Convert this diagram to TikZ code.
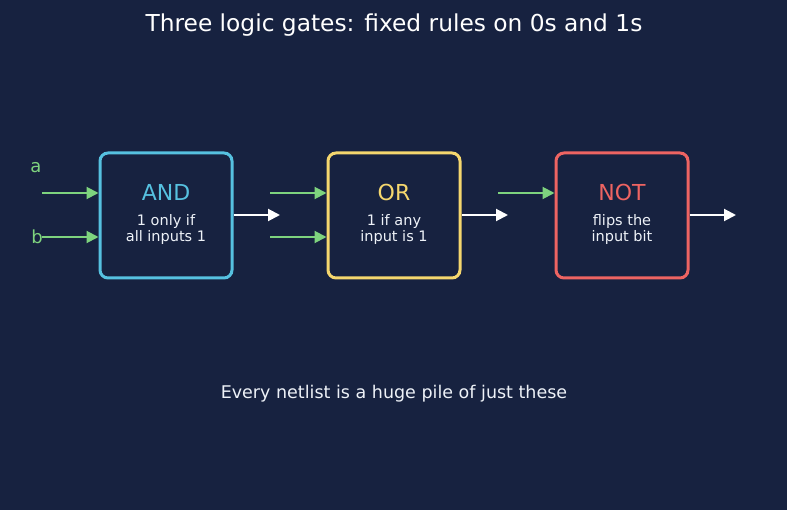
\documentclass[tikz,border=0pt]{standalone}
\usepackage{fontspec}
\setmainfont{DejaVu Sans}
\usetikzlibrary{arrows.meta}
\definecolor{bg}{HTML}{172240}
\definecolor{andc}{HTML}{56C1E0}
\definecolor{orc}{HTML}{F5D76E}
\definecolor{notc}{HTML}{EE6462}
\definecolor{wirec}{HTML}{7ED37E}
\definecolor{subc}{HTML}{EEF2F8}
\tikzset{
  gate/.style={draw=#1, line width=3pt, rounded corners=8pt, minimum width=132pt, minimum height=125pt, inner sep=0pt},
  gname/.style={text=#1, font=\fontsize{22}{26}\selectfont, inner sep=0pt},
  gdesc/.style={text=subc, font=\fontsize{14.5}{16}\selectfont, align=center, inner sep=0pt},
  inwire/.style={draw=wirec, line width=2pt, -{Triangle[length=12pt,width=12pt]}},
  outwire/.style={draw=white, line width=2pt, -{Triangle[length=12pt,width=12pt]}},
  pinlbl/.style={text=wirec, font=\fontsize{18}{20}\selectfont, inner sep=0pt},
}
\begin{document}
\begin{tikzpicture}[x=1pt,y=-1pt]
\fill[bg] (0,0) rectangle (787,510);
\useasboundingbox (0,0) rectangle (787,510);
\node[text=white, font=\fontsize{23.3}{27}\selectfont, inner sep=0pt] (title) at (394,25) {Three logic gates: fixed rules on 0s and 1s};

\node[gate=andc] (and) at (166,215.5) {};
\node[gate=orc] (or) at (394,215.5) {};
\node[gate=notc] (not) at (622,215.5) {};

\node[gname=andc] (andn) at (166,192) {AND};
\node[gdesc] (andd) at (166,230) {1 only if\\[0pt]all inputs 1};
\node[gname=orc] (orn) at (394,192) {OR};
\node[gdesc] (ord) at (394,230) {1 if any\\[0pt]input is 1};
\node[gname=notc] (notn) at (622,192) {NOT};
\node[gdesc] (notd) at (622,230) {flips the\\[0pt]input bit};

\node[pinlbl] (pa) at (36,168) {a};
\node[pinlbl] (pb) at (37,237) {b};

\coordinate (a0) at (42,193);
\coordinate (b0) at (42,237);
\coordinate (o10) at (270,193);
\coordinate (o20) at (270,237);
\coordinate (n0) at (498,193);
\coordinate (ao) at (280,215);
\coordinate (oo) at (508,215);
\coordinate (no) at (736,215);

\draw[inwire] (a0) -- (and.west |- a0);
\draw[inwire] (b0) -- (and.west |- b0);
\draw[inwire] (o10) -- (or.west |- o10);
\draw[inwire] (o20) -- (or.west |- o20);
\draw[inwire] (n0) -- (not.west |- n0);
\draw[outwire] (and.east |- ao) -- (ao);
\draw[outwire] (or.east |- oo) -- (oo);
\draw[outwire] (not.east |- no) -- (no);

\node[text=subc, font=\fontsize{17.5}{20}\selectfont, inner sep=0pt] (foot) at (394,394) {Every netlist is a huge pile of just these};
\end{tikzpicture}
\end{document}
